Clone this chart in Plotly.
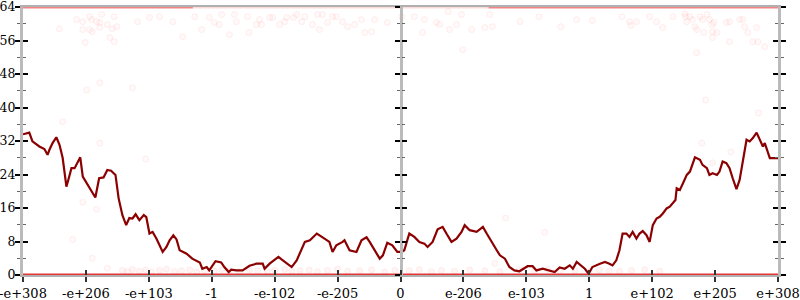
import plotly.graph_objects as go

# ---- data ----
tick_pos = [-6, -5, -4, -3, -2, -1, 0, 1, 2, 3, 4, 5, 6]
tick_text = ["-e+308", "-e+206", "-e+103", "-1", "-e-102", "-e-205", "0",
             "e-206", "e-103", "1", "e+102", "e+205", "e+308"]

line_x = [-6.00, -5.90, -5.85, -5.74, -5.66, -5.61, -5.58, -5.53, -5.47, -5.42,
          -5.37, -5.31, -5.28, -5.23, -5.18, -5.13, -5.09, -5.05, -4.97, -4.90,
          -4.85, -4.79, -4.72, -4.66, -4.60, -4.53, -4.48, -4.42, -4.36, -4.31,
          -4.26, -4.21, -4.15, -4.08, -4.04, -3.99, -3.94, -3.88, -3.78, -3.72,
          -3.67, -3.61, -3.56, -3.51, -3.40, -3.31, -3.19, -3.15, -3.08, -3.04,
          -2.99, -2.94, -2.85, -2.80, -2.73, -2.69, -2.61, -2.51, -2.40, -2.29,
          -2.19, -2.16, -2.08, -2.00, -1.94, -1.87, -1.79, -1.73, -1.65, -1.60,
          -1.52, -1.44, -1.33, -1.25, -1.13, -1.08, -1.02, -0.92, -0.89, -0.81,
          -0.70, -0.62, -0.54, -0.49, -0.41, -0.33, -0.28, -0.21, -0.13, -0.05,
          0.02, 0.06, 0.14, 0.22, 0.30, 0.38, 0.43, 0.51, 0.59, 0.67,
          0.73, 0.81, 0.89, 0.97, 1.02, 1.10, 1.21, 1.31, 1.37, 1.46,
          1.53, 1.58, 1.66, 1.73, 1.81, 1.89, 1.97, 2.02, 2.10, 2.16,
          2.26, 2.37, 2.45, 2.53, 2.61, 2.69, 2.74, 2.80, 2.86, 2.93,
          2.99, 3.05, 3.17, 3.25, 3.32, 3.37, 3.43, 3.48, 3.53, 3.59,
          3.64, 3.69, 3.75, 3.80, 3.85, 3.91, 3.96, 4.01, 4.07, 4.12,
          4.17, 4.23, 4.28, 4.33, 4.37, 4.39, 4.44, 4.49, 4.55, 4.60,
          4.68, 4.76, 4.80, 4.87, 4.91, 4.96, 5.03, 5.07, 5.12, 5.18,
          5.23, 5.28, 5.34, 5.39, 5.44, 5.50, 5.55, 5.60, 5.66, 5.71,
          5.76, 5.79, 5.82, 5.87, 6.00]
line_y = [33.6, 34.0, 31.9, 30.7, 30.1, 28.7, 29.9, 31.5, 32.9, 31.1,
          28.0, 21.1, 22.7, 25.5, 25.5, 27.1, 28.1, 23.5, 21.5, 19.9,
          18.5, 23.1, 23.3, 25.1, 24.9, 23.9, 18.3, 14.3, 11.9, 13.6,
          13.5, 14.5, 13.1, 14.3, 13.8, 9.9, 10.3, 8.7, 5.5, 6.7,
          8.3, 9.5, 8.5, 5.9, 5.1, 3.9, 3.0, 1.5, 1.9, 1.1,
          2.3, 3.3, 3.0, 1.9, 0.7, 1.3, 1.1, 1.1, 2.2, 2.7,
          2.7, 1.5, 2.7, 3.5, 4.3, 3.5, 2.7, 1.9, 3.5, 5.1,
          7.9, 8.3, 9.9, 9.1, 7.9, 5.5, 7.1, 7.9, 8.3, 5.9,
          5.5, 8.3, 9.0, 7.9, 5.9, 3.9, 4.7, 7.7, 7.1, 5.5,
          5.5, 5.9, 9.9, 9.1, 7.9, 7.5, 6.7, 7.9, 10.9, 11.5,
          9.9, 7.9, 8.7, 10.3, 11.9, 10.7, 10.3, 11.5, 9.9, 7.5,
          5.9, 4.7, 3.9, 1.9, 1.1, 0.9, 1.7, 2.1, 2.1, 1.1,
          1.5, 1.1, 0.7, 1.8, 1.5, 2.3, 1.5, 3.1, 2.3, 1.5,
          0.3, 1.9, 2.7, 3.1, 2.7, 2.3, 3.5, 5.9, 9.9, 9.9,
          9.1, 10.3, 8.7, 9.9, 10.5, 9.5, 7.9, 11.9, 13.5, 13.9,
          14.7, 15.9, 16.3, 17.1, 17.9, 20.7, 20.3, 21.9, 23.9, 24.7,
          28.1, 27.5, 26.3, 25.5, 23.9, 24.3, 23.9, 24.7, 27.1, 26.7,
          25.5, 23.1, 20.5, 22.7, 26.7, 32.3, 31.9, 32.7, 34.0, 32.3,
          30.7, 31.5, 29.9, 27.9, 27.9]

# faint sample points
pts_x = [-5.42, -5.15, -5.05, -4.94, -4.91, -4.83, -4.78, -4.66, -4.55, -4.51,
         -5.05, -4.94, -4.90, -4.78, -4.58, -4.62, -4.55, -5.01, -4.75, -4.18,
         -3.99, -3.83, -3.62, -3.46, -3.27, -3.16, -3.04, -2.96, -2.88, -2.84,
         -2.72, -2.64, -2.61, -2.43, -2.41, -2.29, -2.24, -2.21, -2.08, -2.03,
         -1.92, -1.84, -1.81, -1.70, -1.65, -1.57, -1.52, -1.40, -1.32, -1.29,
         -1.24, -1.16, -1.08, -1.02, -0.92, -0.84, -0.73, -0.62, -0.57, -0.46,
         -0.41, -0.21, 0.02, 0.22, 0.38, 0.35, 0.76, 0.97, 1.13, 1.42,
         1.46, 0.99, 0.57, 0.62, 0.78, 0.89, 1.34, 1.90, 2.20, 2.55,
         2.80, 3.05, 3.52, 3.64, 3.66, 3.75, 3.96, 4.07, 4.17, 4.33,
         4.52, 4.53, 4.55, 4.60, 4.64, 4.68, 4.71, 4.76, 4.80, 4.82,
         4.87, 4.91, 4.95, 4.96, 4.98, 5.03, 4.96, 5.18, 5.23, 5.39,
         5.44, 5.47, 5.52, 5.66, 5.79, 5.60, 4.71, 5.23, 5.68,
         -4.78, -4.99, -4.26, -5.37, -4.78, -4.05, 4.85, 5.69, 4.79, 5.25,
         4.96, -5.05, -4.83, -5.21, -4.90, -4.66, 1.67, 2.29, 1.50]
pts_y = [58.8, 61.0, 60.5, 61.7, 61.0, 60.5, 60.3, 59.8, 61.7, 59.3,
         58.6, 58.6, 58.1, 59.1, 58.8, 56.7, 55.7, 55.5, 62.2, 60.5,
         61.5, 61.7, 60.5, 56.9, 61.7, 58.6, 61.5, 60.3, 59.8, 62.2,
         57.4, 62.2, 60.5, 61.7, 57.9, 59.8, 61.0, 59.8, 61.5, 61.5,
         59.8, 60.5, 61.5, 61.5, 62.2, 60.5, 61.7, 59.8, 62.2, 58.6,
         62.2, 60.3, 61.7, 61.7, 60.5, 59.3, 59.8, 61.0, 57.9, 58.1,
         61.0, 60.3, 61.7, 61.7, 61.0, 57.9, 62.9, 62.2, 58.6, 62.2,
         59.3, 53.8, 60.3, 59.8, 58.6, 59.8, 59.1, 60.5, 61.7, 59.3,
         61.0, 60.8, 61.7, 60.5, 59.6, 60.5, 61.7, 60.5, 59.1, 61.7,
         62.4, 61.7, 60.5, 61.7, 61.0, 59.3, 58.6, 61.7, 61.0, 57.9,
         62.2, 61.0, 59.8, 58.1, 60.3, 57.9, 56.7, 60.3, 60.5, 61.0,
         61.0, 59.3, 57.9, 59.1, 54.5, 55.7, 53.1, 55.7, 55.7,
         45.9, 44.2, 44.7, 36.6, 31.5, 27.7, 41.8, 38.7, 31.5, 29.4,
         26.8, 17.4, 15.7, 8.5, 4.0, 1.6, 13.6, 10.2, 2.8]

low_x = [-4.42, -4.34, -4.26, -4.15, -4.05, -3.96, -3.83, -3.72, -3.59, -3.48,
         -3.35, -3.24, -3.11, -2.96, -2.84, -2.72, -2.56, -2.40, -2.27, -2.11,
         -2.00, -1.84, -1.73, -1.60, -1.45, -1.32, -1.16, -1.00, -0.84, -0.65,
         -0.46, -0.25, -0.09, 0.14, 0.30, 0.49, 0.65, 0.86, 1.10, 1.34,
         1.58, 1.89, 2.13, 2.34, 2.53, 2.77, 3.00, 3.16, 3.32, 3.48,
         3.67, 3.88, 4.12]
low_y = [1.1, 0.8, 1.3, 0.9, 1.2, 0.7, 1.1, 1.4, 0.8, 1.0,
         1.2, 0.7, 1.1, 0.9, 1.3, 1.0, 0.8, 1.2, 1.0, 0.7,
         1.1, 1.3, 0.9, 1.0, 1.2, 0.8, 1.1, 1.4, 0.9, 1.0,
         1.2, 0.7, 1.1, 1.0, 1.3, 0.8, 1.1, 0.9, 1.2, 1.0,
         0.8, 1.2, 1.0, 1.3, 0.9, 1.1, 0.8, 1.2, 1.0, 0.9,
         1.1, 1.3, 0.9]

top_strong_x = [-6, -3.3, None, 1.4, 6]
top_strong_y = [64, 64, None, 64, 64]
top_faint_x = [-3.3, 1.4]
top_faint_y = [64, 64]
bottom_x = [-6, 6]
bottom_y = [0, 0]

# ---- figure ----
fig = go.Figure()
fig.add_trace(go.Scatter(x=top_faint_x, y=top_faint_y, mode="lines",
                         line=dict(color="rgba(240,90,90,0.22)", width=3),
                         cliponaxis=False, hoverinfo="skip"))
fig.add_trace(go.Scatter(x=top_strong_x, y=top_strong_y, mode="lines",
                         line=dict(color="rgba(235,50,50,0.6)", width=3),
                         cliponaxis=False, hoverinfo="skip"))
fig.add_trace(go.Scatter(x=pts_x, y=pts_y, mode="markers",
                         marker=dict(size=6, color="rgba(255,60,60,0.03)",
                                     line=dict(color="rgba(255,60,60,0.08)", width=1)),
                         hoverinfo="skip"))
fig.add_trace(go.Scatter(x=low_x, y=low_y, mode="markers",
                         marker=dict(size=6, color="rgba(255,60,60,0.05)",
                                     line=dict(color="rgba(255,60,60,0.08)", width=1)),
                         hoverinfo="skip"))
fig.add_trace(go.Scatter(x=line_x, y=line_y, mode="lines",
                         line=dict(color="#8b0000", width=2.2), hoverinfo="skip"))

# empty traces to instantiate the extra tick axes
for ya in ["y2", "y3", "y4", "y5", "y6"]:
    fig.add_trace(go.Scatter(x=[None], y=[None], yaxis=ya, showlegend=False))
fig.add_trace(go.Scatter(x=[None], y=[None], xaxis="x2", showlegend=False))

fig.add_trace(go.Scatter(x=bottom_x, y=bottom_y, mode="lines",
                         line=dict(color="rgba(225,30,30,0.9)", width=3),
                         cliponaxis=False, hoverinfo="skip"))

font = dict(family="DejaVu Serif", size=13, color="black")
yfont = dict(family="DejaVu Serif", size=12.5, color="black")
yticks = [0, 8, 16, 24, 32, 40, 48, 56, 64]

def yax(**kw):
    d = dict(range=[0, 64], tickvals=yticks, ticklen=5, tickwidth=1.5,
             tickcolor="black", showgrid=False, zeroline=False, automargin=False,
             minor=dict(dtick=4, tick0=0, ticklen=3, tickwidth=1, tickcolor="#666"),
             tickfont=yfont, fixedrange=True, ticklabeloverflow="allow")
    d.update(kw)
    if "minor_ticks" in d:
        d["minor"]["ticks"] = d.pop("minor_ticks")
    return d

fig.update_layout(
    width=800, height=300,
    margin=dict(l=23, r=22, t=7, b=25, autoexpand=False),
    paper_bgcolor="white", plot_bgcolor="white",
    showlegend=False,
    xaxis=dict(range=[-6, 6], tickvals=tick_pos, ticktext=tick_text,
               ticks="outside", ticklen=5, tickwidth=1.5, tickcolor="#333",
               showline=True, linecolor="#b0b0b0", linewidth=2, mirror=True,
               showgrid=False, zeroline=False, tickfont=font, fixedrange=True,
               automargin=False, ticklabeloverflow="allow"),
    xaxis2=dict(range=[-6, 6], tickvals=tick_pos, overlaying="x", side="bottom",
                anchor="y", ticks="inside", ticklen=5, tickwidth=1.5,
                tickcolor="#333", showticklabels=False, showline=False,
                showgrid=False, zeroline=False, fixedrange=True, automargin=False),
    yaxis=yax(ticks="outside", minor_ticks="outside", showline=True,
              linecolor="#bbbbbb", linewidth=3, ticklabelstandoff=-3),
    yaxis2=yax(ticks="inside", minor_ticks="inside", overlaying="y", side="left",
               showticklabels=False),
    yaxis3=yax(ticks="outside", minor_ticks="outside", overlaying="y", anchor="free",
               position=0.5, side="left", showticklabels=False, showline=True,
               linecolor="#bbbbbb", linewidth=3),
    yaxis4=yax(ticks="inside", minor_ticks="inside", overlaying="y", anchor="free",
               position=0.5, side="left", showticklabels=False),
    yaxis5=yax(ticks="outside", minor_ticks="outside", overlaying="y", side="right",
               showticklabels=False, showline=True, linecolor="#bbbbbb", linewidth=3),
    yaxis6=yax(ticks="inside", minor_ticks="inside", overlaying="y", side="right",
               showticklabels=False),
)

fig.write_html("out.html")
